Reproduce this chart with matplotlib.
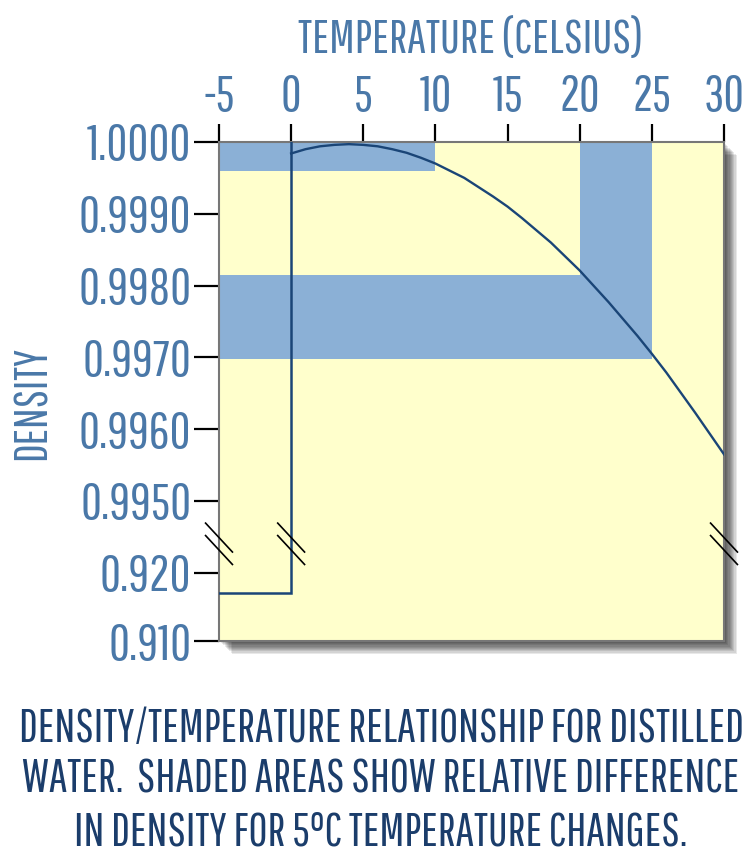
import numpy as np
import matplotlib
matplotlib.use("Agg")
import matplotlib.pyplot as plt
from matplotlib.patches import Rectangle
from matplotlib import font_manager

# --- data ---
temps = [0, 1, 2, 3, 4, 5, 6, 7, 8, 9, 10, 12, 14, 15, 16, 18, 20, 22, 24, 25, 26, 28, 30]
density = [0.99984, 0.99990, 0.99994, 0.99996, 0.99997, 0.99996, 0.99994, 0.99990,
           0.99985, 0.99978, 0.99970, 0.99950, 0.99924, 0.99910, 0.99894, 0.99860,
           0.99821, 0.99777, 0.99730, 0.99705, 0.99679, 0.99623, 0.99565]

ice_temp = 0
ice_density = 0.917

# shaded areas: (x0, x1, y0, y1)
shade_x0 = [-5, -5, 20]
shade_x1 = [10, 25, 25]
shade_y0 = [0.9996, 0.99698, 0.99815]
shade_y1 = [1.0000, 0.99815, 1.0000]

x_ticks = [-5, 0, 5, 10, 15, 20, 25, 30]
y_ticks = [0.910, 0.920, 0.9950, 0.9960, 0.9970, 0.9980, 0.9990, 1.0000]
y_tick_labels = ["0.910", "0.920", "0.9950", "0.9960", "0.9970", "0.9980", "0.9990", "1.0000"]
break_temps = [-5, 0, 30]

# broken y axis: piecewise linear scale
brk_vals = [0.910, 0.920, 0.995, 1.000]
brk_pos = [0.0, 0.95, 1.95, 6.95]

names = {f.name for f in font_manager.fontManager.ttflist}
family = [f for f in ["Pathway Gothic One", "Liberation Sans Narrow", "DejaVu Sans"] if f in names]
plt.rcParams["font.family"] = family

LABEL = "#4a78a8"
NAVY = "#1b3d6b"
LINE = "#1a4577"
YELLOW = "#ffffcc"
BAND = "#8bb0d6"

fig = plt.figure(figsize=(7.53, 8.63), dpi=100)
fig.patch.set_facecolor("white")

ax_l, ax_b, ax_w, ax_h = 219 / 753, 1 - 641 / 863, 505 / 753, 499 / 863
ax = fig.add_axes([ax_l, ax_b, ax_w, ax_h])
ax.set_facecolor(YELLOW)

# soft drop shadow behind the plot
for i in range(10):
    off = 2 + i * 1.2
    fig.add_artist(Rectangle((ax_l + off / 753, ax_b - off / 863), ax_w, ax_h,
                             transform=fig.transFigure, facecolor="#000000",
                             alpha=0.09, edgecolor="none", zorder=-1))

ax.set_yscale("function", functions=(lambda y: np.interp(y, brk_vals, brk_pos),
                                     lambda d: np.interp(d, brk_pos, brk_vals)))
ax.set_xlim(-5, 30)
ax.set_ylim(0.910, 1.000)

for x0, x1, y0, y1 in zip(shade_x0, shade_x1, shade_y0, shade_y1):
    ax.add_patch(Rectangle((x0, y0), x1 - x0, y1 - y0, facecolor=BAND,
                           edgecolor="none", zorder=1))

ax.plot(temps, density, color=LINE, lw=1.7, zorder=3)
ax.plot([ice_temp, ice_temp, -5], [1.0, ice_density, ice_density],
        color=LINE, lw=1.8, zorder=3, solid_joinstyle="miter")

# axis break marks
for bx in break_temps:
    for yc in [0.9568, 0.9438]:
        ax.plot([bx - 0.93, bx + 0.93], [yc + 0.0151, yc - 0.0151],
                color="black", lw=1.2, clip_on=False, zorder=5)

ax.xaxis.tick_top()
ax.set_xticks(x_ticks)
ax.set_xticklabels([str(t) for t in x_ticks])
ax.set_yticks(y_ticks)
ax.set_yticklabels(y_tick_labels)
ax.tick_params(axis="x", direction="out", length=13, width=1.6, color="black",
               labelsize=36, labelcolor=LABEL, pad=3)
ax.tick_params(axis="y", direction="out", length=18, width=1.6, color="black",
               labelsize=37, labelcolor=LABEL, pad=2)
ax.minorticks_off()

for side in ["left", "right", "bottom", "top"]:
    ax.spines[side].set_color("#777777")
    ax.spines[side].set_linewidth(1.5)

fig.text(471 / 753, 1 - 40 / 863, "TEMPERATURE (CELSIUS)", color=LABEL,
         fontsize=34, ha="center", va="center")
fig.text(32 / 753, 1 - 403 / 863, "DENSITY", color=LABEL, fontsize=33,
         rotation=90, ha="center", va="center")

caption = ["DENSITY/TEMPERATURE RELATIONSHIP FOR DISTILLED",
           "WATER.  SHADED AREAS SHOW RELATIVE DIFFERENCE",
           "IN DENSITY FOR 5\u00b0C TEMPERATURE CHANGES."]
for line, yp in zip(caption, [728, 779, 832]):
    fig.text(381 / 753, 1 - yp / 863, line, color=NAVY, fontsize=33.5,
             ha="center", va="center")

fig.savefig("out.png", dpi=100, facecolor="white")
